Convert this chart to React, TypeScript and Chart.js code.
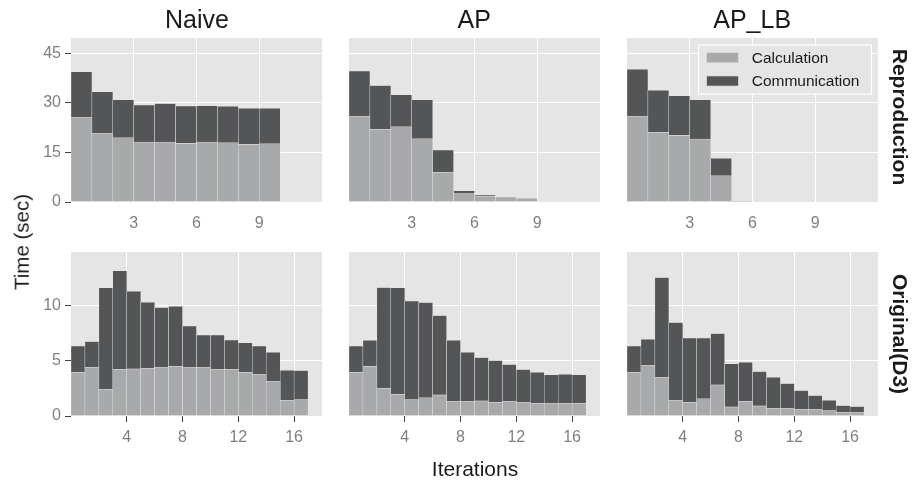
import React, { useEffect, useRef } from 'react';
import { Chart, registerables } from 'chart.js';

Chart.register(...registerables);

// ---------- data ----------
const seriesNames = ['Calculation', 'Communication'];
const methods = ['Naive', 'AP', 'AP_LB'];
const rowLabels = ['Reproduction', 'Original(D3)'];
const xTitle = 'Iterations';
const yTitle = 'Time (sec)';

const iterationsTop = ['1', '2', '3', '4', '5', '6', '7', '8', '9', '10', '11', '12'];
const iterationsBottom = ['1', '2', '3', '4', '5', '6', '7', '8', '9', '10', '11', '12', '13', '14', '15', '16', '17', '18'];
const xTicksTop = [3, 6, 9];
const xTicksBottom = [4, 8, 12, 16];
const yTicksTop = [0, 15, 30, 45];
const yTicksBottom = [0, 5, 10];

// Reproduction row
const naiveReproCalc = [25.5, 20.7, 19.4, 18.1, 18.1, 17.7, 18.1, 17.9, 17.4, 17.6];
const naiveReproComm = [13.9, 12.6, 11.5, 11.2, 11.7, 11.3, 11.0, 11.0, 10.9, 10.7];
const apReproCalc = [25.8, 22.0, 22.7, 19.1, 9.0, 2.5, 1.7, 1.5, 1.1];
const apReproComm = [13.8, 13.2, 9.7, 11.8, 6.7, 0.9, 0.4, 0, 0];
const aplbReproCalc = [25.8, 21.1, 20.1, 19.0, 7.9, 0.15];
const aplbReproComm = [14.3, 12.7, 12.0, 11.9, 5.3, 0];

// Original(D3) row
const naiveOrigCalc = [3.97, 4.42, 2.42, 4.24, 4.27, 4.33, 4.39, 4.52, 4.39, 4.39, 4.21, 4.24, 3.97, 3.76, 3.12, 1.42, 1.48];
const naiveOrigComm = [2.39, 2.34, 9.22, 8.96, 7.06, 6.0, 5.46, 5.45, 3.79, 2.97, 3.15, 2.66, 2.67, 2.6, 2.67, 2.73, 2.64];
const apOrigCalc = [3.97, 4.52, 2.52, 1.97, 1.48, 1.64, 1.91, 1.3, 1.3, 1.36, 1.24, 1.3, 1.21, 1.15, 1.12, 1.12, 1.15];
const apOrigComm = [2.39, 2.36, 9.15, 9.67, 8.97, 8.66, 7.21, 5.58, 4.49, 3.94, 3.79, 3.37, 3.0, 2.82, 2.61, 2.67, 2.58];
const aplbOrigCalc = [3.97, 4.58, 3.48, 1.39, 1.24, 1.55, 2.82, 0.82, 1.33, 0.91, 0.67, 0.67, 0.58, 0.58, 0.48, 0.3, 0.3];
const aplbOrigComm = [2.39, 2.39, 9.1, 7.09, 5.85, 5.54, 4.66, 3.91, 3.55, 3.12, 2.85, 2.27, 1.72, 1.27, 0.94, 0.64, 0.55];

// ---------- style ----------
const FONT = '"Liberation Sans", Arial, Helvetica, sans-serif';
const CALC_COLOR = '#a8a9ab';
const COMM_COLOR = '#545557';
const BAR_EDGE = '#e4e4e4';
const PANEL_BG = '#e5e5e5';
const TICK_TEXT = '#7f7f7f';
const TICK_MARK = '#444444';

const COL_LEFT = [71, 349, 627];
const ROW_TOP = [38, 252];
const PANEL_W = 251;
const PANEL_H = 164;
const AX_W = 50;
const AX_H = 40;
const PAD_T = 14;
const PAD_R = 14;

const panelBg = {
  id: 'panelBg',
  beforeDraw(chart: any) {
    const { ctx, chartArea: a } = chart;
    ctx.save();
    ctx.fillStyle = PANEL_BG;
    ctx.fillRect(a.left, a.top, a.right - a.left, a.bottom - a.top);
    ctx.restore();
  },
};

const legendBox = {
  id: 'legendBox',
  afterDraw(chart: any) {
    const { ctx, chartArea: a } = chart;
    const bx = a.left + 71.5;
    const by = a.top + 7;
    ctx.save();
    ctx.fillStyle = PANEL_BG;
    ctx.fillRect(bx, by, 173, 49);
    ctx.strokeStyle = '#ffffff';
    ctx.lineWidth = 1.2;
    ctx.strokeRect(bx, by, 173, 49);
    const colors = [CALC_COLOR, COMM_COLOR];
    const sy = [a.top + 14.7, a.top + 38];
    const ty = [a.top + 20.7, a.top + 44];
    ctx.font = `15.5px ${FONT}`;
    ctx.textBaseline = 'middle';
    ctx.textAlign = 'left';
    for (let i = 0; i < 2; i++) {
      ctx.fillStyle = colors[i];
      ctx.fillRect(a.left + 79.7, sy[i], 31.6, 10);
      ctx.strokeStyle = '#d8d8d8';
      ctx.lineWidth = 0.6;
      ctx.strokeRect(a.left + 79.7, sy[i], 31.6, 10);
      ctx.fillStyle = '#1a1a1a';
      ctx.fillText(seriesNames[i], a.left + 124.7, ty[i]);
    }
    ctx.restore();
  },
};

type PanelProps = {
  row: number;
  col: number;
  cats: string[];
  calc: number[];
  comm: number[];
  xMax: number;
  xTicks: number[];
  yMax: number;
  yTicks: number[];
  legend?: boolean;
};

function Panel(p: PanelProps) {
  const ref = useRef<HTMLCanvasElement>(null);
  const W = PANEL_W + AX_W + PAD_R;
  const H = PANEL_H + AX_H + PAD_T;
  useEffect(() => {
    const showY = p.col === 0;
    const bottomRow = p.row === 1;
    const barCommon = {
      borderColor: BAR_EDGE,
      borderWidth: 0.5,
      borderSkipped: false as const,
      barPercentage: 1,
      categoryPercentage: 1,
      xAxisID: 'x',
      yAxisID: 'y',
      stack: 's',
    };
    const chart = new Chart(ref.current as HTMLCanvasElement, {
      type: 'bar',
      data: {
        labels: p.cats,
        datasets: [
          { ...barCommon, label: seriesNames[0], data: p.calc, backgroundColor: CALC_COLOR },
          { ...barCommon, label: seriesNames[1], data: p.comm, backgroundColor: COMM_COLOR },
        ],
      },
      options: {
        animation: false,
        responsive: false,
        maintainAspectRatio: false,
        layout: { padding: { left: 0, top: PAD_T, right: PAD_R, bottom: 0 } },
        plugins: { legend: { display: false }, tooltip: { enabled: false }, title: { display: false } },
        scales: {
          x: { type: 'category', display: false, stacked: true, offset: true },
          xt: {
            type: 'linear',
            position: 'bottom',
            min: 0,
            max: p.xMax,
            offset: false,
            afterBuildTicks: (s: any) => {
              s.ticks = p.xTicks.map((v) => ({ value: v }));
            },
            afterFit: (s: any) => {
              s.height = AX_H;
              s.paddingLeft = 0;
              s.paddingRight = 0;
            },
            border: { display: false },
            grid: {
              offset: false,
              color: '#ffffff',
              lineWidth: 1,
              drawTicks: true,
              tickLength: 6,
              tickColor: bottomRow ? TICK_MARK : 'rgba(0,0,0,0)',
              tickWidth: 1,
            },
            ticks: {
              color: TICK_TEXT,
              font: { family: FONT, size: 16 },
              padding: 6,
              maxRotation: 0,
              autoSkip: false,
            },
          },
          y: {
            stacked: true,
            min: 0,
            max: p.yMax,
            afterBuildTicks: (s: any) => {
              s.ticks = p.yTicks.map((v) => ({ value: v }));
            },
            afterFit: (s: any) => {
              s.width = AX_W;
              s.paddingTop = 0;
              s.paddingBottom = 0;
            },
            border: { display: false },
            grid: {
              color: (ctx: any) => (ctx.tick && ctx.tick.value === 0 ? 'rgba(0,0,0,0)' : '#ffffff'),
              lineWidth: 1,
              drawTicks: true,
              tickLength: 6,
              tickColor: showY ? TICK_MARK : 'rgba(0,0,0,0)',
              tickWidth: 1,
            },
            ticks: {
              display: showY,
              color: TICK_TEXT,
              font: { family: FONT, size: 16 },
              padding: 4,
            },
          },
        } as any,
      },
      plugins: p.legend ? [panelBg, legendBox] : [panelBg],
    });
    return () => chart.destroy();
  }, []);
  return (
    <canvas
      ref={ref}
      width={W}
      height={H}
      style={{
        position: 'absolute',
        left: COL_LEFT[p.col] - AX_W,
        top: ROW_TOP[p.row] - PAD_T,
        width: W,
        height: H,
      }}
    />
  );
}

const labelBase: React.CSSProperties = {
  position: 'absolute',
  fontFamily: FONT,
  lineHeight: 1,
  whiteSpace: 'nowrap',
  color: '#1a1a1a',
};

export default function App() {
  useEffect(() => {
    document.body.style.margin = '0';
  }, []);

  const top = [
    { calc: naiveReproCalc, comm: naiveReproComm },
    { calc: apReproCalc, comm: apReproComm },
    { calc: aplbReproCalc, comm: aplbReproComm },
  ];
  const bottom = [
    { calc: naiveOrigCalc, comm: naiveOrigComm },
    { calc: apOrigCalc, comm: apOrigComm },
    { calc: aplbOrigCalc, comm: aplbOrigComm },
  ];
  const titleX = [197, 474.3, 752.2];

  return (
    <div style={{ position: 'relative', width: 913, height: 482, background: '#ffffff', overflow: 'hidden' }}>
      {top.map((d, i) => (
        <Panel
          key={'t' + i}
          row={0}
          col={i}
          cats={iterationsTop}
          calc={d.calc}
          comm={d.comm}
          xMax={12}
          xTicks={xTicksTop}
          yMax={49.6}
          yTicks={yTicksTop}
          legend={i === 2}
        />
      ))}
      {bottom.map((d, i) => (
        <Panel
          key={'b' + i}
          row={1}
          col={i}
          cats={iterationsBottom}
          calc={d.calc}
          comm={d.comm}
          xMax={18}
          xTicks={xTicksBottom}
          yMax={14.9}
          yTicks={yTicksBottom}
        />
      ))}
      {methods.map((m, i) => (
        <div
          key={m}
          style={{ ...labelBase, left: titleX[i], top: 18.5, fontSize: 25, transform: 'translate(-50%, -50%)' }}
        >
          {m}
        </div>
      ))}
      <div
        style={{ ...labelBase, left: 899.5, top: 117, fontSize: 21, fontWeight: 'bold', transform: 'translate(-50%, -50%) rotate(90deg)' }}
      >
        {rowLabels[0]}
      </div>
      <div
        style={{ ...labelBase, left: 899.5, top: 334, fontSize: 21, fontWeight: 'bold', transform: 'translate(-50%, -50%) rotate(90deg)' }}
      >
        {rowLabels[1]}
      </div>
      <div
        style={{ ...labelBase, left: 22, top: 242, fontSize: 20.5, transform: 'translate(-50%, -50%) rotate(-90deg)' }}
      >
        {yTitle}
      </div>
      <div style={{ ...labelBase, left: 475, top: 467.8, fontSize: 21, transform: 'translate(-50%, -50%)' }}>
        {xTitle}
      </div>
    </div>
  );
}
